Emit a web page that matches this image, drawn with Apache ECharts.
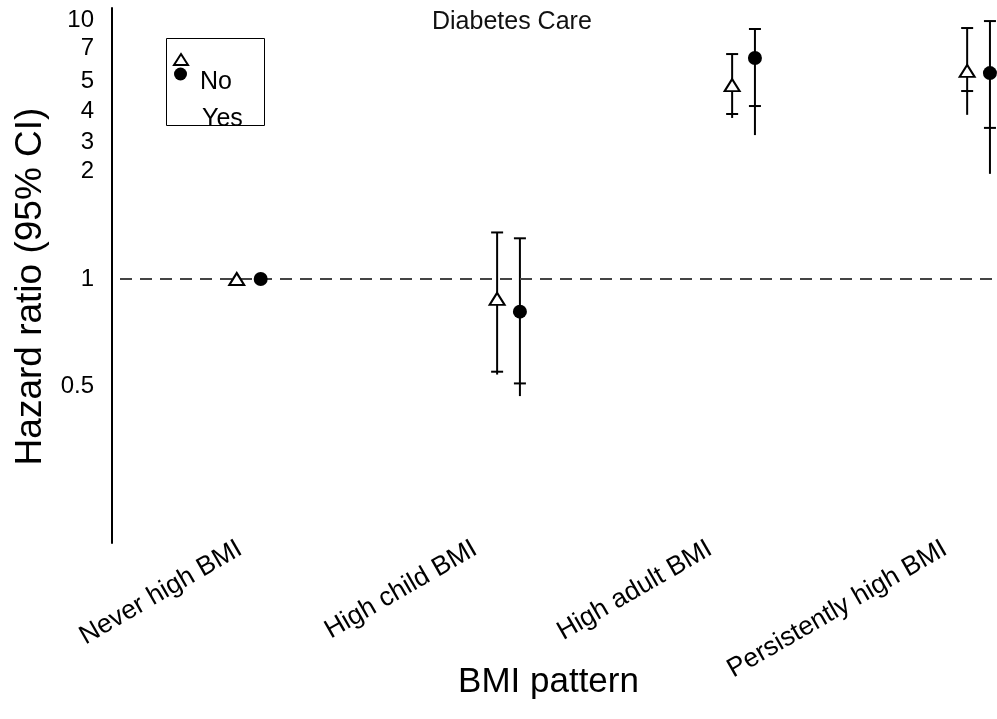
<!DOCTYPE html>
<html>
<head>
<meta charset="utf-8">
<script src="https://cdn.jsdelivr.net/npm/echarts@6/dist/echarts.min.js"></script>
<style>html,body{margin:0;padding:0;background:#fff}#c{width:997px;height:719px}</style>
</head>
<body>
<div id="c"></div>
<script>
// ---- data ----
const categories = ['Never high BMI', 'High child BMI', 'High adult BMI', 'Persistently high BMI'];
const seriesNames = ['No', 'Yes'];
// x positions on the category value axis (category k sits at k)
const xNo  = [0.986, 2.094, 3.094, 4.094];
const xYes = [1.088, 2.191, 3.191, 4.191];
// hazard ratios
const hrNo        = [1, 0.88, 4.85, 5.54];
const hrNoUpper   = [null, 1.35, 6.58, 9.03];
const hrNoLower   = [null, 0.55, 3.89, 4.64];
const hrNoWhisker = [null, 0.54, 3.75, 3.86];
const hrYes        = [1, 0.81, 6.32, 5.42];
const hrYesUpper   = [null, 1.30, 8.92, 9.87];
const hrYesLower   = [null, 0.51, 4.15, 3.42];
const hrYesWhisker = [null, 0.47, 3.20, 1.97];
const refLine = 1;
// y tick labels and where the figure's own (broken) scale puts them
const tickValues = [0.5, 1, 2, 3, 4, 5, 7, 10];
const tickLabels = ['0.5', '1', '2', '3', '4', '5', '7', '10'];
const tickScale  = [-1, 0, 1, 1.274, 1.563, 1.842, 2.149, 2.409];

// map a hazard ratio onto the figure's scale (log interpolation between ticks)
function toAxis(v) {
  const n = tickValues.length;
  let i = 0;
  if (v <= tickValues[0]) i = 0;
  else if (v >= tickValues[n - 1]) i = n - 2;
  else { while (!(v >= tickValues[i] && v <= tickValues[i + 1])) i++; }
  const f = Math.log(v / tickValues[i]) / Math.log(tickValues[i + 1] / tickValues[i]);
  return tickScale[i] + f * (tickScale[i + 1] - tickScale[i]);
}

function barData(xs, up, lo, wh) {
  const out = [];
  for (let i = 0; i < xs.length; i++) {
    if (up[i] == null) continue;
    out.push([xs[i], toAxis(up[i]), toAxis(lo[i]), toAxis(wh[i])]);
  }
  return out;
}
function pointData(xs, hr) { return xs.map((x, i) => [x, toAxis(hr[i])]); }

const FONT = 'Liberation Sans, Arial, sans-serif';
const chart = echarts.init(document.getElementById('c'), null, { renderer: 'canvas' });

function renderBar(params, api) {
  const x = api.value(0);
  const top = api.coord([x, api.value(1)]);
  const low = api.coord([x, api.value(2)]);
  const end = api.coord([x, api.value(3)]);
  const w = 6;
  const st = { stroke: '#000', lineWidth: 2 };
  return {
    type: 'group',
    children: [
      { type: 'line', shape: { x1: top[0], y1: top[1], x2: end[0], y2: end[1] }, style: st },
      { type: 'line', shape: { x1: top[0] - w, y1: top[1], x2: top[0] + w, y2: top[1] }, style: st },
      { type: 'line', shape: { x1: low[0] - w, y1: low[1], x2: low[0] + w, y2: low[1] }, style: st }
    ]
  };
}

const option = {
  animation: false,
  textStyle: { fontFamily: FONT, color: '#000' },
  title: {
    text: 'Diabetes Care', left: 427, top: 5,
    textStyle: { fontFamily: FONT, fontSize: 25, fontWeight: 'normal', color: '#111' }
  },
  grid: { left: 112, right: 0, top: 8, bottom: 176, containLabel: false, outerBoundsMode: 'none' },
  xAxis: {
    type: 'value', min: 0.4553, max: 4.221,
    axisLine: { show: false }, axisTick: { show: false }, splitLine: { show: false },
    axisLabel: {
      customValues: [1, 2, 3, 4],
      formatter: v => categories[Math.round(v) - 1] || '',
      rotate: 30, margin: 4, fontSize: 26.5, color: '#000', fontFamily: FONT
    },
    name: 'BMI pattern', nameLocation: 'middle', nameGap: 122, nameMoveOverlap: false,
    nameTextStyle: { fontSize: 35, color: '#000', fontFamily: FONT, padding: [0, 12, 0, 0] }
  },
  yAxis: {
    type: 'value', min: -2.456, max: 2.521,
    axisLine: { show: true, lineStyle: { color: '#000', width: 2 } },
    axisTick: { show: false }, splitLine: { show: false },
    axisLabel: {
      customValues: tickScale,
      formatter: v => {
        for (let i = 0; i < tickScale.length; i++) if (Math.abs(tickScale[i] - v) < 1e-6) return tickLabels[i];
        return '';
      },
      margin: 18, fontSize: 24, color: '#000', fontFamily: FONT
    },
    name: 'Hazard ratio (95% CI)', nameLocation: 'middle', nameGap: 63, nameMoveOverlap: false,
    nameTextStyle: { fontSize: 37, color: '#000', fontFamily: FONT, padding: [0, 22, 0, 0] }
  },
  series: [
    {
      type: 'custom', name: 'barsNo', renderItem: renderBar, z: 2,
      data: barData(xNo, hrNoUpper, hrNoLower, hrNoWhisker),
      markLine: {
        silent: true, symbol: 'none', label: { show: false },
        lineStyle: { color: '#444', width: 2, type: [12, 8], dashOffset: 12 },
        data: [{ yAxis: toAxis(refLine) }]
      }
    },
    {
      type: 'custom', name: 'barsYes', renderItem: renderBar, z: 2,
      data: barData(xYes, hrYesUpper, hrYesLower, hrYesWhisker)
    },
    {
      type: 'scatter', name: seriesNames[0], z: 5,
      symbol: 'triangle', symbolSize: [15, 12],
      itemStyle: { color: '#fff', borderColor: '#000', borderWidth: 2, opacity: 1 },
      data: pointData(xNo, hrNo)
    },
    {
      type: 'scatter', name: seriesNames[1], z: 5,
      symbol: 'circle', symbolSize: 14,
      itemStyle: { color: '#000', opacity: 1 },
      data: pointData(xYes, hrYes)
    }
  ],
  graphic: [
    { type: 'rect', left: 164, top: 36, shape: { width: 98, height: 87 }, style: { fill: null, stroke: '#000', lineWidth: 1 }, z: 10 },
    { type: 'polygon', shape: { points: [[181, 54], [188, 65], [174, 65]] }, style: { fill: '#fff', stroke: '#000', lineWidth: 2 }, z: 11 },
    { type: 'circle', shape: { cx: 180.5, cy: 74, r: 6.5 }, style: { fill: '#000' }, z: 11 },
    { type: 'text', x: 200, y: 82, style: { text: seriesNames[0], font: '25px ' + FONT, fill: '#000', verticalAlign: 'middle' }, z: 12 },
    { type: 'text', x: 202, y: 119, style: { text: seriesNames[1], font: '25px ' + FONT, fill: '#000', verticalAlign: 'middle' }, z: 12 }
  ]
};
chart.setOption(option);
</script>
</body>
</html>
